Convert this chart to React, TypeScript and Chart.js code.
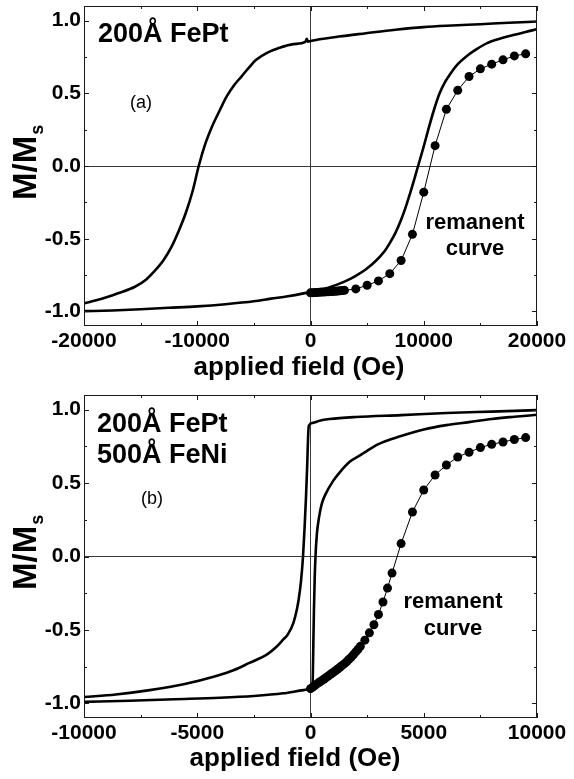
import React, { useEffect, useRef } from 'react';
import { Chart, registerables } from 'chart.js';

Chart.register(...registerables);

const FONT = '"Liberation Sans", Arial, Helvetica, sans-serif';

// ---------- Panel (a): 200Å FePt ----------
const aUpperX = [-20000, -18500, -17000, -15500, -14500, -13800, -13000, -12300, -11600, -11000, -10400, -9870, -9300, -8700, -8000, -7400, -6700, -6100, -5400, -4800, -3800, -2850, -1500, -450, -330, -220, 0, 2500, 4900, 7500, 10000, 12500, 15000, 17500, 20000];
const aUpperY = [-0.945, -0.915, -0.875, -0.83, -0.78, -0.725, -0.65, -0.56, -0.44, -0.32, -0.17, 0.0, 0.15, 0.27, 0.385, 0.478, 0.56, 0.615, 0.68, 0.73, 0.78, 0.81, 0.838, 0.853, 0.874, 0.855, 0.86, 0.89, 0.913, 0.937, 0.955, 0.966, 0.975, 0.985, 0.993];
const aLowerX = [-20000, -17500, -15000, -12500, -10000, -7500, -5000, -3500, -2000, 0, 1500, 3000, 4000, 4900, 5800, 6500, 7000, 7500, 8000, 8500, 9000, 9500, 10000, 10400, 10900, 11400, 11900, 12400, 13000, 13700, 14600, 15600, 16700, 17900, 19000, 20000];
const aLowerY = [-0.998, -0.993, -0.985, -0.975, -0.965, -0.95, -0.93, -0.912, -0.895, -0.867, -0.838, -0.795, -0.755, -0.71, -0.65, -0.59, -0.53, -0.46, -0.37, -0.26, -0.135, 0.0, 0.135, 0.25, 0.385, 0.5, 0.58, 0.64, 0.7, 0.75, 0.8, 0.845, 0.875, 0.9, 0.922, 0.94];
const aRemX = [0, 200, 400, 600, 800, 1000, 1200, 1400, 1600, 1800, 2000, 2200, 2400, 2600, 2800, 3000, 4000, 5000, 6000, 7000, 8000, 9000, 10000, 11000, 12000, 13000, 14000, 15000, 16000, 17000, 18000, 19000];
const aRemY = [-0.872, -0.871, -0.87, -0.869, -0.868, -0.867, -0.866, -0.865, -0.864, -0.863, -0.862, -0.861, -0.86, -0.858, -0.856, -0.855, -0.845, -0.82, -0.79, -0.74, -0.65, -0.47, -0.18, 0.14, 0.39, 0.52, 0.615, 0.668, 0.7, 0.73, 0.757, 0.771];
const aXTicks = [-20000, -10000, 0, 10000, 20000];

// ---------- Panel (b): 200Å FePt / 500Å FeNi ----------
const bUpperX = [-10000, -8600, -7100, -5600, -4200, -3400, -2700, -1900, -1500, -1200, -1000, -750, -600, -530, -420, -330, -260, -200, -150, -110, -75, 100, 400, 840, 2000, 4000, 6000, 8000, 10000];
const bUpperY = [-0.957, -0.94, -0.91, -0.87, -0.815, -0.775, -0.725, -0.665, -0.615, -0.565, -0.53, -0.45, -0.36, -0.3, -0.17, 0.0, 0.2, 0.4, 0.6, 0.8, 0.89, 0.91, 0.925, 0.936, 0.95, 0.963, 0.977, 0.987, 0.997];
const bLowerX = [-10000, -8000, -6000, -4000, -2500, -1200, -300, 0, 80, 100, 125, 150, 185, 220, 280, 380, 500, 650, 1000, 1300, 1730, 2200, 2500, 3000, 4000, 5000, 6000, 7000, 8000, 9000, 10000];
const bLowerY = [-0.99, -0.982, -0.972, -0.962, -0.95, -0.932, -0.91, -0.9, -0.88, -0.83, -0.6, -0.38, -0.15, 0.0, 0.15, 0.27, 0.36, 0.42, 0.515, 0.575, 0.645, 0.69, 0.72, 0.765, 0.82, 0.865, 0.895, 0.915, 0.937, 0.952, 0.965];
const bRemX = [0, 100, 200, 300, 400, 500, 600, 700, 800, 900, 1000, 1100, 1200, 1300, 1400, 1500, 1600, 1700, 1800, 1900, 2000, 2100, 2200, 2400, 2600, 2800, 3000, 3200, 3400, 3600, 4000, 4500, 5000, 5500, 6000, 6500, 7000, 7500, 8000, 8500, 9000, 9500];
const bRemY = [-0.9, -0.89, -0.878, -0.866, -0.855, -0.845, -0.834, -0.823, -0.812, -0.8, -0.79, -0.778, -0.766, -0.754, -0.742, -0.73, -0.716, -0.7, -0.685, -0.668, -0.65, -0.632, -0.612, -0.57, -0.52, -0.465, -0.395, -0.31, -0.215, -0.113, 0.088, 0.303, 0.453, 0.555, 0.623, 0.678, 0.71, 0.742, 0.764, 0.78, 0.797, 0.81];
const bXTicks = [-10000, -5000, 0, 5000, 10000];

const yTicks = [-1, -0.5, 0, 0.5, 1];
const Y_MIN = -1.1;
const Y_MAX = 1.1;

type Txt = { text: string; x: number; y: number; size: number; bold: boolean; align: CanvasTextAlign };

interface PanelCfg {
  upperX: number[]; upperY: number[];
  lowerX: number[]; lowerY: number[];
  remX: number[]; remY: number[];
  xTicks: number[];
  xAxisHeight: number;
  texts: Txt[];
  xTitle: { x: number; y: number };
  yTitleBottom: number;
}

const zip = (xs: number[], ys: number[]) => xs.map((x, i) => ({ x, y: ys[i] }));

const midpoints = (arr: number[]) => arr.slice(1).map((v, i) => (v + arr[i]) / 2);

function makePlugin(cfg: PanelCfg) {
  return {
    id: 'frameAndText',
    afterDatasetsDraw(chart: any) {
      const { ctx, chartArea } = chart;
      const { left, right, top, bottom } = chartArea;
      const xs = chart.scales.x;
      const ys = chart.scales.y;
      ctx.save();
      ctx.strokeStyle = '#1a1a1a';
      ctx.lineWidth = 1;
      ctx.strokeRect(left + 0.5, top + 0.5, right - left - 1, bottom - top - 1);
      const line = (x1: number, y1: number, x2: number, y2: number) => {
        ctx.beginPath();
        ctx.moveTo(x1, y1);
        ctx.lineTo(x2, y2);
        ctx.stroke();
      };
      const xMajor = cfg.xTicks;
      const xMinor = midpoints(cfg.xTicks);
      const yMinor = midpoints(yTicks);
      xMajor.forEach((v) => {
        const p = Math.round(xs.getPixelForValue(v)) + 0.5;
        line(p, bottom, p, bottom - 5);
        line(p, top, p, top + 5);
      });
      xMinor.forEach((v) => {
        const p = Math.round(xs.getPixelForValue(v)) + 0.5;
        line(p, bottom, p, bottom - 3);
        line(p, top, p, top + 3);
      });
      yTicks.forEach((v) => {
        const p = Math.round(ys.getPixelForValue(v)) + 0.5;
        line(left, p, left + 5, p);
        line(right, p, right - 5, p);
      });
      yMinor.forEach((v) => {
        const p = Math.round(ys.getPixelForValue(v)) + 0.5;
        line(left, p, left + 3, p);
        line(right, p, right - 3, p);
      });

      ctx.fillStyle = '#000';
      ctx.textBaseline = 'alphabetic';
      cfg.texts.forEach((t) => {
        ctx.font = `${t.bold ? 'bold ' : ''}${t.size}px ${FONT}`;
        ctx.textAlign = t.align;
        ctx.fillText(t.text, t.x, t.y);
      });

      // x axis title
      ctx.font = `bold 26px ${FONT}`;
      ctx.textAlign = 'center';
      ctx.fillText('applied field (Oe)', cfg.xTitle.x, cfg.xTitle.y);

      // y axis title with subscript
      ctx.save();
      ctx.translate(36, cfg.yTitleBottom);
      ctx.rotate(-Math.PI / 2);
      ctx.textAlign = 'left';
      ctx.font = `bold 33px ${FONT}`;
      ctx.fillText('M/M', 0, 0);
      const w = ctx.measureText('M/M').width;
      ctx.font = `bold 18px ${FONT}`;
      ctx.fillText('s', w + 1, 7);
      ctx.restore();

      ctx.restore();
    },
  };
}

function Panel({ cfg, top }: { cfg: PanelCfg; top: number }) {
  const ref = useRef<HTMLCanvasElement>(null);
  useEffect(() => {
    const canvas = ref.current;
    if (!canvas) return;
    const tickFont = { family: FONT, size: 21, weight: 'bold' as const };
    const gridColor = (c: any) => (c.tick && c.tick.value === 0 ? '#3a3a3a' : 'rgba(0,0,0,0)');
    const chart = new Chart(canvas, {
      type: 'scatter',
      data: {
        datasets: [
          {
            data: zip(cfg.upperX, cfg.upperY),
            showLine: true,
            borderColor: '#000',
            borderWidth: 2.6,
            pointRadius: 0,
            cubicInterpolationMode: 'monotone',
          },
          {
            data: zip(cfg.lowerX, cfg.lowerY),
            showLine: true,
            borderColor: '#000',
            borderWidth: 2.6,
            pointRadius: 0,
            cubicInterpolationMode: 'monotone',
          },
          {
            data: zip(cfg.remX, cfg.remY),
            showLine: true,
            borderColor: '#000',
            borderWidth: 1,
            pointRadius: 4.5,
            pointBackgroundColor: '#000',
            pointBorderColor: '#000',
            pointBorderWidth: 0,
            tension: 0,
          },
        ] as any,
      },
      options: {
        animation: false,
        responsive: false,
        devicePixelRatio: 1,
        layout: { padding: { top: 6, right: 37, left: 0, bottom: 0 } },
        plugins: { legend: { display: false }, tooltip: { enabled: false } },
        events: [],
        scales: {
          x: {
            type: 'linear',
            min: cfg.xTicks[0],
            max: cfg.xTicks[cfg.xTicks.length - 1],
            afterBuildTicks: (s: any) => {
              s.ticks = cfg.xTicks.map((v) => ({ value: v }));
            },
            afterFit: (s: any) => {
              s.height = cfg.xAxisHeight;
              s.paddingLeft = 0;
              s.paddingRight = 0;
            },
            ticks: {
              font: tickFont,
              color: '#000',
              padding: 3,
              maxRotation: 0,
              autoSkip: false,
              callback: (v: any) => String(v),
            },
            grid: { color: gridColor, lineWidth: 1, drawTicks: false },
            border: { display: false },
          },
          y: {
            type: 'linear',
            min: Y_MIN,
            max: Y_MAX,
            afterBuildTicks: (s: any) => {
              s.ticks = yTicks.map((v) => ({ value: v }));
            },
            afterFit: (s: any) => {
              s.width = 84;
              s.paddingTop = 0;
              s.paddingBottom = 0;
            },
            ticks: {
              font: tickFont,
              color: '#000',
              padding: 3,
              autoSkip: false,
              callback: (v: any) => Number(v).toFixed(1),
            },
            grid: { color: gridColor, lineWidth: 1, drawTicks: false },
            border: { display: false },
          },
        },
      } as any,
      plugins: [makePlugin(cfg)],
    });
    return () => chart.destroy();
  }, [cfg]);
  return (
    <canvas
      ref={ref}
      width={574}
      height={390}
      style={{ position: 'absolute', left: 0, top, width: 574, height: 390, display: 'block' }}
    />
  );
}

const panelA: PanelCfg = {
  upperX: aUpperX, upperY: aUpperY,
  lowerX: aLowerX, lowerY: aLowerY,
  remX: aRemX, remY: aRemY,
  xTicks: aXTicks,
  xAxisHeight: 64,
  texts: [
    { text: '200Å FePt', x: 98, y: 42, size: 27, bold: true, align: 'left' },
    { text: '(a)', x: 141, y: 108, size: 18, bold: false, align: 'center' },
    { text: 'remanent', x: 475, y: 229, size: 22, bold: true, align: 'center' },
    { text: 'curve', x: 475, y: 255, size: 22, bold: true, align: 'center' },
  ],
  xTitle: { x: 299, y: 375 },
  yTitleBottom: 200,
};

const panelB: PanelCfg = {
  upperX: bUpperX, upperY: bUpperY,
  lowerX: bLowerX, lowerY: bLowerY,
  remX: bRemX, remY: bRemY,
  xTicks: bXTicks,
  xAxisHeight: 61,
  texts: [
    { text: '200Å FePt', x: 97, y: 43, size: 27, bold: true, align: 'left' },
    { text: '500Å FeNi', x: 97, y: 74, size: 27, bold: true, align: 'left' },
    { text: '(b)', x: 152, y: 115, size: 18, bold: false, align: 'center' },
    { text: 'remanent', x: 453, y: 219, size: 22, bold: true, align: 'center' },
    { text: 'curve', x: 453, y: 246, size: 22, bold: true, align: 'center' },
  ],
  xTitle: { x: 295, y: 377 },
  yTitleBottom: 201,
};

export default function App() {
  return (
    <div style={{ position: 'absolute', left: 0, top: 0, width: 574, height: 779, background: '#fff', overflow: 'hidden' }}>
      <Panel cfg={panelA} top={0} />
      <Panel cfg={panelB} top={389} />
    </div>
  );
}
